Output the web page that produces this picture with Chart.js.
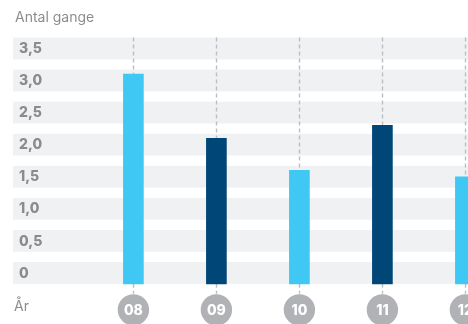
<!DOCTYPE html>
<html lang="da">
<head>
<meta charset="utf-8">
<title>Antal gange</title>
<script src="https://cdn.jsdelivr.net/npm/chart.js@4/dist/chart.umd.min.js"></script>
<style>
    html, body { margin: 0; padding: 0; background: #fff; overflow: hidden; }
    #wrap { position: relative; width: 520px; height: 324px; }
    .cap { position: absolute; left: 15px; font: 400 14px "Inter", "Lato", sans-serif; color: #8d8d8f; }
    #title { top: 8px; }
    #year { top: 297px; left: 14px; }
</style>
</head>
<body>
<div id="wrap">
    <canvas id="chart"></canvas>
    <div class="cap" id="title">Antal gange</div>
    <div class="cap" id="year">År</div>
</div>
<script>
"use strict";

const YEARS = ["08", "09", "10", "11", "12"];
const COUNTS = [3.1, 2.1, 1.6, 2.3, 1.5];
const Y_TICKS = [0, 0.5, 1, 1.5, 2, 2.5, 3, 3.5];
const Y_LABELS = ["0", "0,5", "1,0", "1,5", "2,0", "2,5", "3,0", "3,5"];

const LIGHT = "#40c8f4";
const DARK = "#004677";
const BAND = 0.17;          // half height of a grey stripe, in value units
const GREY_TEXT = "#8b8b8d";
const BOLD = "800 14px Inter, Lato, sans-serif";

// grey stripes behind each tick, with the tick value written inside
const stripes = {
    id: "stripes",
    beforeDraw(c) {
        const ctx = c.ctx, y = c.scales.y;
        ctx.save();
        ctx.fillStyle = "#f0f1f3";
        for (const v of Y_TICKS) {
            const top = y.getPixelForValue(v + BAND);
            const bot = y.getPixelForValue(v - BAND);
            ctx.fillRect(13, top, c.width - 13, bot - top);
        }
        ctx.fillStyle = GREY_TEXT;
        ctx.font = BOLD;
        ctx.textBaseline = "middle";
        Y_TICKS.forEach((v, i) => ctx.fillText(Y_LABELS[i], 19, y.getPixelForValue(v) + 0.5));
        ctx.restore();
    }
};

// dashed guide above each bar, and a short dash down to the year badge
const guides = {
    id: "guides",
    beforeDatasetsDraw(c) {
        const ctx = c.ctx, y = c.scales.y;
        const top = y.getPixelForValue(Y_TICKS[Y_TICKS.length - 1] + BAND);
        const base = y.getPixelForValue(-BAND);
        ctx.save();
        ctx.strokeStyle = "#bdbec1";
        ctx.lineWidth = 1.4;
        ctx.setLineDash([4, 3]);
        for (const bar of c.getDatasetMeta(0).data) {
            const x = Math.round(bar.x) + 0.5;
            ctx.beginPath();
            ctx.moveTo(x, top);
            ctx.lineTo(x, bar.y);
            ctx.moveTo(x, base);
            ctx.lineTo(x, base + 10);
            ctx.stroke();
        }
        ctx.restore();
    },
    afterDraw(c) {
        const ctx = c.ctx, y = c.scales.y;
        const cy = y.getPixelForValue(-BAND) + 26;
        ctx.save();
        ctx.font = BOLD;
        ctx.textAlign = "center";
        ctx.textBaseline = "middle";
        c.getDatasetMeta(0).data.forEach((bar, i) => {
            ctx.fillStyle = "#b1b2b6";
            ctx.beginPath();
            ctx.arc(bar.x, cy, 15.7, 0, Math.PI * 2);
            ctx.fill();
            ctx.fillStyle = "#fff";
            ctx.fillText(YEARS[i], bar.x, cy + 0.5);
        });
        ctx.restore();
    }
};

new Chart(document.getElementById("chart"), {
    type: "bar",
    data: {
        labels: YEARS,
        datasets: [{
            data: COUNTS,
            base: -BAND,
            backgroundColor: COUNTS.map((_, i) => i % 2 ? DARK : LIGHT),
            barThickness: 20,
            borderWidth: 0
        }]
    },
    options: {
        responsive: true,
        maintainAspectRatio: false,
        animation: false,
        layout: { padding: { left: 91.9, right: 13.1, top: 26, bottom: 19 } },
        plugins: { legend: { display: false }, tooltip: { enabled: false } },
        scales: {
            x: { display: false, offset: true },
            y: { display: false, min: -0.5, max: 3.85 }
        }
    },
    plugins: [stripes, guides]
});
</script>
</body>
</html>
